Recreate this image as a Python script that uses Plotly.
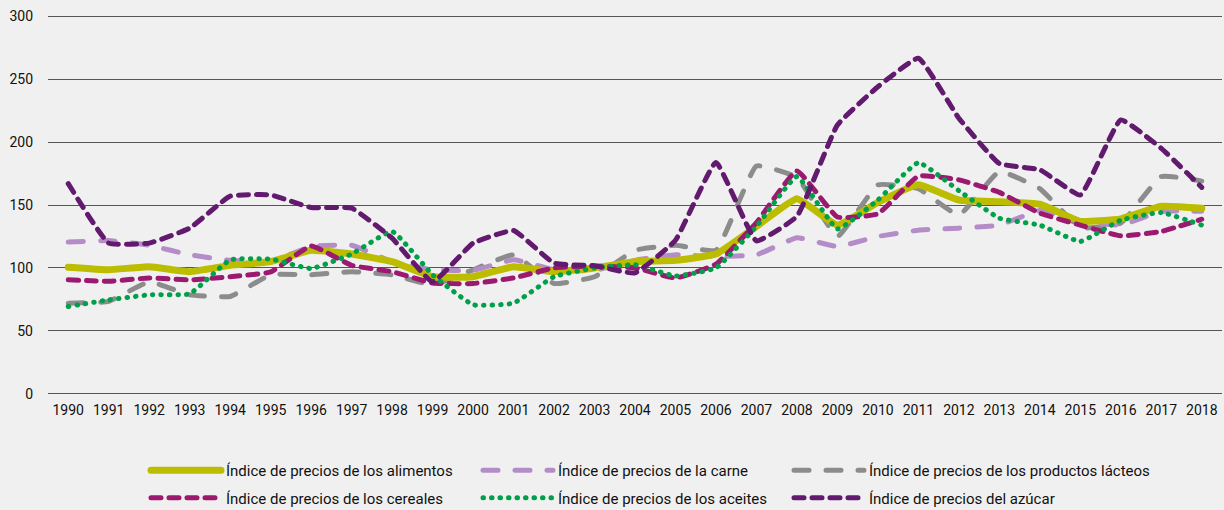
import plotly.graph_objects as go

years = [str(y) for y in range(1990, 2019)]

food = [100.5, 98.5, 101, 97, 102, 105, 114, 111, 105, 93, 93, 101, 97, 100, 105, 106, 111, 133, 155,
        134, 152, 166, 154, 152.6, 150.6, 137, 139, 149, 147.5]
meat = [120.5, 121.7, 118, 110.4, 106, 105, 117, 118, 105, 98.5, 98, 106.4, 98.5, 98, 106, 110.4, 109, 110.4, 124,
        117, 125, 130, 131.6, 134, 145.6, 137, 134, 145, 145]
dairy = [72, 73.4, 89, 78.6, 77.3, 94.5, 94.5, 97, 94.5, 86.6, 98.5, 110.4, 87.6, 93, 114, 118, 114, 181, 172,
         125, 166, 163, 142, 176.6, 163, 132, 135.6, 172.6, 169]
cereals = [90.5, 89.4, 92, 90.5, 93, 96.8, 117.5, 102, 97, 88, 87.6, 92, 100, 101.5, 100, 92, 103, 136, 177,
           140.5, 143, 173, 170, 160, 143.5, 134, 125.5, 129, 138.7]
oils = [69.3, 74.6, 78.6, 79.4, 106.4, 107, 99.5, 111, 129, 94.5, 70.7, 72, 93, 100, 102.5, 93.6, 100, 133, 172.6,
        131, 154, 183.7, 161.4, 139.5, 134, 121, 138, 144, 134]
sugar = [167, 119.7, 119.7, 131.6, 157, 158, 148, 147.5, 123.6, 89, 119.7, 129.7, 103.8, 101.7, 96, 122, 183.7, 121.5, 141,
         213.6, 244, 266.6, 219, 183, 178, 158, 217.6, 195, 164]

names = [
    "Índice de precios de los alimentos",
    "Índice de precios de la carne",
    "Índice de precios de los productos lácteos",
    "Índice de precios de los cereales",
    "Índice de precios de los aceites",
    "Índice de precios del azúcar",
]
series = [food, meat, dairy, cereals, oils, sugar]
styles = [
    dict(color="#bcbc00", width=7, dash="solid"),
    dict(color="#b48cc8", width=5, dash="15px,17px"),
    dict(color="#8c8c8c", width=5, dash="15px,17px"),
    dict(color="#9b1a70", width=5, dash="10px,8px"),
    dict(color="#00a04a", width=5, dash="0.5px,8px"),
    dict(color="#621a6e", width=5, dash="10px,8px"),
]
legend_ids = ["legend", "legend2", "legend3", "legend4", "legend5", "legend6"]
leg_x_px = [146, 478, 789, 146, 478, 789]
leg_y_px = [470.5, 470.5, 470.5, 498, 498, 498]
draw = [2, 1, 0, 3, 4, 5]

fig = go.Figure()
for i in draw:
    st = styles[i]
    fig.add_trace(go.Scatter(
        x=years, y=series[i], name=names[i], mode="lines",
        line=dict(color=st["color"], width=st["width"], dash=st["dash"], shape="spline", smoothing=0.35),
        legend=legend_ids[i], hoverinfo="skip",
    ))

W, H = 1224, 510
ff = "Roboto, sans-serif"
legends = {}
for i, lid in enumerate(legend_ids):
    legends[lid] = dict(orientation="v", xref="container", yref="container",
                        x=leg_x_px[i] / W, y=1 - leg_y_px[i] / H,
                        xanchor="left", yanchor="middle", itemwidth=70,
                        font=dict(family=ff, size=15, color="#111"),
                        bgcolor="rgba(0,0,0,0)", borderwidth=0)

fig.update_layout(
    width=W, height=H,
    margin=dict(l=48, r=2, t=15, b=115, autoexpand=False),
    paper_bgcolor="#f0f0f0", plot_bgcolor="#f0f0f0",
    font=dict(family=ff, size=14, color="#111"),
    showlegend=True,
    hovermode=False,
    xaxis=dict(type="category", range=[-0.5, 28.5], showgrid=False, zeroline=False,
               showline=False, ticks="", tickfont=dict(size=14, color="#111"),
               ticklabelstandoff=5),
    yaxis=dict(range=[-1, 301], tickvals=[0, 50, 100, 150, 200, 250, 300], showgrid=True,
               gridcolor="#555", gridwidth=1,
               zeroline=False, showline=False, ticks="", tickfont=dict(size=14, color="#111"),
               ticklabelstandoff=14),
    **legends,
)

post = """
document.body.style.margin='0';
var gd = document.getElementById('{plot_id}');
function roundCaps(){
  gd.querySelectorAll('path.js-line').forEach(function(p){p.style.strokeLinecap='round';});
}
roundCaps();
gd.on('plotly_afterplot', roundCaps);
"""
fig.write_html("out.html", post_script=post, config={"displayModeBar": False})
